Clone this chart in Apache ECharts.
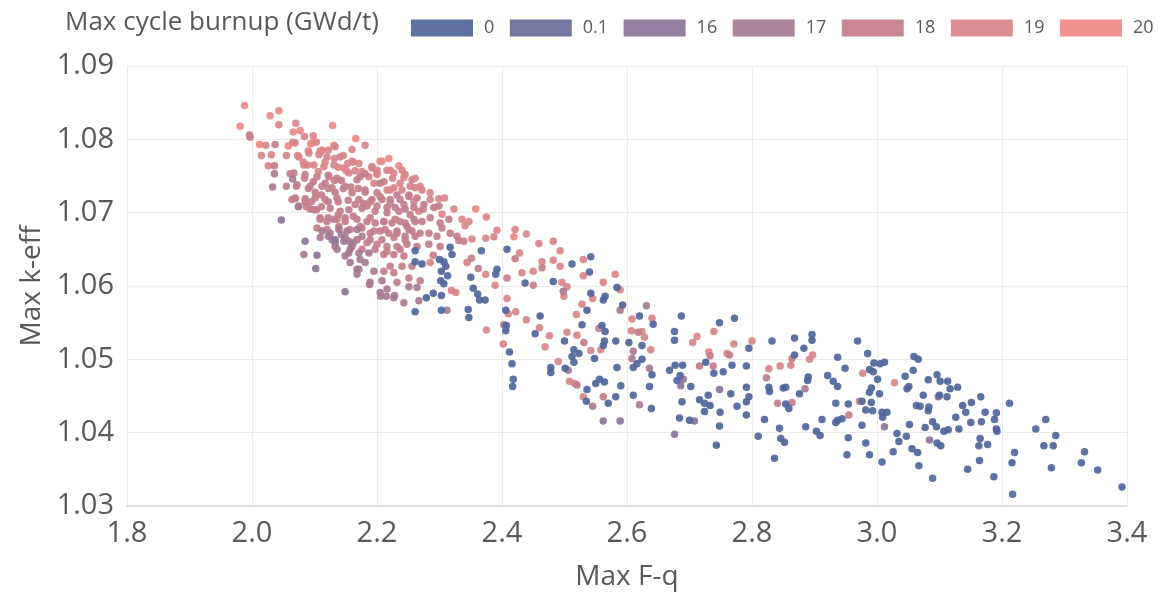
<!DOCTYPE html>
<html>
<head>
<meta charset="utf-8">
<script src="https://cdn.jsdelivr.net/npm/echarts@6/dist/echarts.min.js"></script>
<style>
  html, body { margin: 0; padding: 0; background: #ffffff; }
  #chart { width: 1158px; height: 597px; }
</style>
</head>
<body>
<div id="chart"></div>
<script>
// Burnup classes shown in the legend, with their colours
const burnupLabels = ['0', '0.1', '16', '17', '18', '19', '20'];
const burnupColors = ['#4f659a', '#6b6e9b', '#8a7599', '#a87b92', '#c27e8b', '#d9858a', '#ee8885'];

const xTicks = [1.8, 2.0, 2.2, 2.4, 2.6, 2.8, 3.0, 3.2, 3.4];
const yTicks = [1.03, 1.04, 1.05, 1.06, 1.07, 1.08, 1.09];

// [Max F-q, Max k-eff] per design, grouped by max cycle burnup (GWd/t)
const burnup20 = [
  [1.988,1.0846],[1.981,1.0818],[2.029,1.0832],[2.043,1.0839],[2.066,1.0810],[2.129,1.0819],[2.166,1.0801],
  [2.077,1.0812],[2.208,1.0770],[2.219,1.0774],[2.419,1.0667],[2.058,1.0791],[2.094,1.0794],[2.235,1.0764],
  [2.358,1.0705],[2.012,1.0793],[2.096,1.0795],[2.131,1.0792],[2.205,1.0770]
];

const burnup19 = [
  [2.043,1.0820],[2.070,1.0822],[2.084,1.0804],[2.098,1.0805],[2.022,1.0792],[2.065,1.0796],[2.103,1.0796],
  [2.090,1.0784],[2.109,1.0784],[2.122,1.0785],[2.133,1.0790],[2.160,1.0786],[2.181,1.0792],[2.015,1.0778],
  [2.031,1.0779],[2.055,1.0778],[2.073,1.0778],[2.110,1.0783],[2.132,1.0774],[2.146,1.0778],[2.117,1.0769],
  [2.153,1.0767],[2.162,1.0769],[2.082,1.0769],[2.089,1.0765],[2.106,1.0756],[2.138,1.0762],[2.192,1.0761],
  [2.221,1.0758],[2.200,1.0758],[2.240,1.0758],[2.243,1.0748],[2.256,1.0745],[2.261,1.0747],[2.225,1.0747],
  [2.200,1.0752],[2.165,1.0757],[2.151,1.0757],[2.026,1.0764],[2.253,1.0736],[2.269,1.0736],[2.272,1.0731],
  [2.285,1.0727],[2.299,1.0719],[2.308,1.0720],[2.285,1.0718],[2.323,1.0705],[2.347,1.0688],[2.375,1.0694],
  [2.336,1.0691],[2.341,1.0682],[2.392,1.0676],[2.421,1.0677],[2.439,1.0671],[2.459,1.0658],[2.482,1.0661],
  [2.493,1.0648],[2.428,1.0645],[2.464,1.0633],[2.482,1.0635],[2.530,1.0636],[2.493,1.0627],[2.450,1.0620],
  [2.432,1.0618],[2.562,1.0605],[2.581,1.0616],[2.496,1.0605],[2.504,1.0599],[2.499,1.0586],[2.530,1.0614],
  [2.589,1.0595],[2.545,1.0583],[2.528,1.0575],[2.408,1.0583],[2.410,1.0562],[2.422,1.0565],[2.439,1.0554],
  [2.519,1.0561],[2.608,1.0555],[2.640,1.0556],[2.304,1.0698],[2.344,1.0632],[2.374,1.0616],[2.389,1.0601],
  [2.319,1.0594],[2.326,1.0591],[2.285,1.0632],[2.352,1.0664],[2.374,1.0665],[2.387,1.0667],[2.216,1.0731],
  [2.227,1.0734],[2.240,1.0731],
  [2.542,1.0512],[2.558,1.0513],[2.504,1.0537],[2.520,1.0533],[2.490,1.0497],[2.508,1.0470],[2.516,1.0467],
  [2.476,1.0532],[2.469,1.0517],[2.460,1.0543],[2.375,1.0540],[2.402,1.0521],[2.530,1.0449],[2.607,1.0539],
  [2.624,1.0538],[2.628,1.0530],[2.638,1.0513],[2.705,1.0523],[2.712,1.0531],[2.739,1.0538],[2.731,1.0510],
  [2.760,1.0508],[2.771,1.0521],[2.800,1.0525],[2.827,1.0487],[2.845,1.0491],[2.862,1.0492],[2.892,1.0500],
  [2.897,1.0506],[2.977,1.0481],[3.028,1.0468],
  [2.069,1.0795],[2.112,1.0785],[2.075,1.0776],[2.091,1.0781],[2.107,1.0779],[2.120,1.0776],[2.141,1.0776],
  [2.160,1.0770],[2.171,1.0767],[2.192,1.0763],[2.216,1.0758],[2.083,1.0765],[2.099,1.0765],[2.115,1.0763],
  [2.131,1.0765],[2.147,1.0761],[2.155,1.0754],[2.176,1.0756],[2.187,1.0749],[2.200,1.0754],[2.227,1.0754],
  [2.245,1.0752],[2.195,1.0740],[2.237,1.0740],[2.261,1.0734],[2.221,1.0731],[2.251,1.0724],[2.259,1.0715],
  [2.267,1.0702]
];

const burnup18 = [
  [1.996,1.0806],[1.997,1.0803],[2.037,1.0793],[2.036,1.0764],[2.061,1.0753],[2.084,1.0747],[2.071,1.0736],
  [2.055,1.0736],[2.090,1.0733],[2.098,1.0742],[2.122,1.0751],[2.132,1.0744],[2.143,1.0744],[2.117,1.0740],
  [2.173,1.0749],[2.181,1.0753],[2.205,1.0740],[2.101,1.0728],[2.111,1.0724],[2.122,1.0733],[2.133,1.0728],
  [2.146,1.0733],[2.158,1.0735],[2.170,1.0733],[2.181,1.0728],[2.085,1.0719],[2.069,1.0719],[2.095,1.0715],
  [2.122,1.0715],[2.138,1.0715],[2.154,1.0717],[2.165,1.0711],[2.178,1.0713],[2.205,1.0722],[2.221,1.0718],
  [2.237,1.0718],[2.251,1.0722],[2.264,1.0720],[2.275,1.0711],[2.192,1.0718],[2.184,1.0709],[2.200,1.0709],
  [2.216,1.0707],[2.229,1.0707],[2.245,1.0705],[2.259,1.0707],[2.274,1.0705],[2.291,1.0707],[2.299,1.0709],
  [2.315,1.0691],[2.301,1.0686],[2.285,1.0693],[2.272,1.0688],[2.259,1.0691],[2.237,1.0688],[2.224,1.0686],
  [2.211,1.0688],[2.197,1.0686],[2.184,1.0688],[2.173,1.0681],[2.248,1.0681],[2.304,1.0679],[2.328,1.0668],
  [2.339,1.0661],[2.317,1.0672],[2.296,1.0668],[2.283,1.0672],[2.269,1.0672],[2.256,1.0675],[2.245,1.0668],
  [2.232,1.0672],[2.219,1.0672],[2.205,1.0675],[2.189,1.0672],[2.331,1.0662],[2.301,1.0654],[2.283,1.0657],
  [2.264,1.0654],[2.248,1.0657],[2.232,1.0654],[2.216,1.0654],[2.200,1.0657],[2.184,1.0659],[2.168,1.0663],
  [2.109,1.0691],[2.120,1.0688],[2.136,1.0691],[2.122,1.0693],[2.138,1.0697],[2.149,1.0688],[2.162,1.0695],
  [2.093,1.0705],[2.103,1.0704],[2.111,1.0708],[2.064,1.0718],[2.087,1.0708],[2.211,1.0643],[2.227,1.0643],
  [2.243,1.0641],[2.232,1.0605],[2.251,1.0611],[2.269,1.0607],[2.227,1.0618],[2.211,1.0620],[2.240,1.0627],
  [2.256,1.0627],[2.221,1.0627],[2.290,1.0642],[2.351,1.0638],[2.362,1.0624],[2.408,1.0611],[2.450,1.0601],
  [2.421,1.0637],[2.464,1.0625],
  [2.555,1.0542],[2.531,1.0523],[2.520,1.0465],[2.562,1.0449],[2.618,1.0537],[2.716,1.0491],[2.733,1.0505],
  [2.738,1.0491],[2.764,1.0506],[2.823,1.0475],[2.841,1.0440],[2.864,1.0441],[2.864,1.0501],[2.955,1.0424],
  [2.972,1.0443],
  [2.067,1.0754],[2.085,1.0752],[2.104,1.0749],[2.123,1.0749],[2.136,1.0747],[2.168,1.0745],[2.211,1.0742],
  [2.072,1.0738],[2.093,1.0736],[2.112,1.0736],[2.128,1.0734],[2.149,1.0736],[2.160,1.0727],[2.181,1.0731],
  [2.200,1.0727],[2.232,1.0724],[2.069,1.0720],[2.085,1.0715],[2.101,1.0720],[2.117,1.0718],[2.136,1.0720],
  [2.171,1.0718],[2.189,1.0715],[2.208,1.0718],[2.221,1.0713],[2.243,1.0711],[2.075,1.0709],[2.099,1.0704],
  [2.125,1.0706],[2.141,1.0702],[2.155,1.0704],[2.176,1.0706],[2.197,1.0702],[2.216,1.0700],[2.235,1.0702],
  [2.253,1.0697],[2.109,1.0693],[2.131,1.0691],[2.149,1.0693],[2.168,1.0691],[2.189,1.0693],[2.211,1.0688],
  [2.229,1.0691],[2.245,1.0686],[2.261,1.0688],[2.104,1.0679],[2.120,1.0677],[2.139,1.0681],[2.157,1.0677],
  [2.176,1.0679],[2.195,1.0675],[2.213,1.0677],[2.232,1.0675],[2.251,1.0677],[2.168,1.0663],[2.189,1.0663],
  [2.208,1.0663],[2.227,1.0666],[2.245,1.0663],[2.261,1.0668],[2.176,1.0650],[2.197,1.0650],[2.216,1.0647],
  [2.237,1.0650]
];

const burnup17 = [
  [2.033,1.0735],[2.065,1.0746],[2.036,1.0753],[2.074,1.0708],[2.112,1.0675],[2.125,1.0672],[2.139,1.0677],
  [2.152,1.0675],[2.133,1.0659],[2.147,1.0661],[2.155,1.0661],[2.160,1.0654],[2.122,1.0668],[2.133,1.0654],
  [2.143,1.0670],[2.168,1.0623],[2.168,1.0616],[2.149,1.0641],[2.155,1.0645],[2.171,1.0645],[2.187,1.0645],
  [2.157,1.0632],[2.171,1.0623],[2.195,1.0620],[2.189,1.0605],[2.208,1.0607],[2.205,1.0591],[2.216,1.0596],
  [2.227,1.0584],[2.243,1.0577],[2.267,1.0580],[2.228,1.0587],[2.215,1.0586],[2.206,1.0586],[2.188,1.0602],
  [2.251,1.0599],[2.264,1.0598],[2.162,1.0659],[2.176,1.0668],[2.168,1.0677],[2.181,1.0632],[2.173,1.0636],
  [2.083,1.0643],[2.312,1.0567],[2.403,1.0547],[2.610,1.0511],[2.608,1.0501],[2.636,1.0488],[2.631,1.0573],
  [2.589,1.0567],[2.506,1.0485],[2.498,1.0593],[2.620,1.0438],[2.545,1.0436],[2.885,1.0460],
  [2.109,1.0666],[2.128,1.0663],[2.149,1.0666],[2.136,1.0650],[2.157,1.0650]
];

const burnup16 = [
  [2.047,1.0690],[2.085,1.0661],[2.104,1.0642],[2.102,1.0624],[2.149,1.0592],[2.133,1.0663],
  [2.589,1.0416],[2.562,1.0416],[2.676,1.0398],[2.708,1.0416],[2.690,1.0473],[2.686,1.0464],[2.748,1.0459],
  [3.012,1.0408],[3.098,1.0449],[3.084,1.0390]
];

const burnup01 = [];

const burnup0 = [
  [2.261,1.0648],[2.261,1.0633],[2.272,1.0630],[2.317,1.0653],[2.320,1.0643],[2.300,1.0636],[2.307,1.0633],
  [2.310,1.0627],[2.303,1.0620],[2.313,1.0614],[2.302,1.0607],[2.307,1.0603],[2.290,1.0590],[2.303,1.0587],
  [2.279,1.0584],[2.261,1.0565],[2.303,1.0567],[2.346,1.0568],[2.347,1.0557],[2.350,1.0612],[2.354,1.0597],
  [2.361,1.0589],[2.364,1.0581],[2.373,1.0581],[2.367,1.0648],[2.392,1.0623],[2.390,1.0616],
  [2.408,1.0650],[2.512,1.0630],[2.542,1.0640],[2.540,1.0619],[2.437,1.0604],[2.482,1.0606],[2.584,1.0598],
  [2.542,1.0590],[2.565,1.0586],[2.562,1.0581],[2.536,1.0567],[2.593,1.0574],[2.620,1.0559],[2.642,1.0548],
  [2.603,1.0523],[2.624,1.0519],[2.610,1.0489],[2.616,1.0494],[2.624,1.0500],[2.640,1.0479],[2.636,1.0463],
  [2.639,1.0433],[2.610,1.0451],[2.582,1.0449],[2.570,1.0440],[2.535,1.0443],[2.536,1.0459],[2.550,1.0467],
  [2.556,1.0473],[2.564,1.0469],[2.590,1.0464],[2.584,1.0489],[2.548,1.0501],[2.562,1.0519],[2.582,1.0525],
  [2.564,1.0525],[2.560,1.0546],[2.565,1.0538],[2.528,1.0547],[2.500,1.0525],[2.515,1.0513],[2.523,1.0508],
  [2.512,1.0504],[2.515,1.0496],[2.501,1.0488],[2.478,1.0489],[2.478,1.0482],[2.453,1.0535],[2.461,1.0559],
  [2.406,1.0567],[2.406,1.0539],[2.407,1.0546],[2.412,1.0510],[2.416,1.0494],[2.418,1.0473],[2.417,1.0463],
  [2.687,1.0559],[2.676,1.0538],[2.676,1.0526],[2.668,1.0485],[2.677,1.0492],[2.689,1.0492],[2.680,1.0471],
  [2.685,1.0478],[2.702,1.0463],[2.688,1.0442],[2.684,1.0420],[2.700,1.0417],[2.716,1.0445],[2.724,1.0440],
  [2.733,1.0437],[2.724,1.0429],[2.730,1.0451],[2.749,1.0428],[2.748,1.0409],[2.743,1.0383],[2.726,1.0496],
  [2.748,1.0550],[2.772,1.0556],[2.739,1.0481],[2.754,1.0483],[2.768,1.0492],[2.766,1.0453],[2.776,1.0436],
  [2.791,1.0491],[2.795,1.0515],[2.791,1.0462],[2.795,1.0449],[2.791,1.0442],[2.791,1.0424],[2.810,1.0395],
  [2.820,1.0418],[2.836,1.0365],[2.832,1.0525],[2.827,1.0462],[2.828,1.0456],[2.850,1.0461],[2.854,1.0462],
  [2.854,1.0439],[2.859,1.0433],[2.844,1.0406],[2.846,1.0392],[2.852,1.0387],[2.868,1.0506],[2.868,1.0529],
  [2.883,1.0515],[2.896,1.0534],[2.896,1.0526],[2.890,1.0476],[2.889,1.0471],[2.876,1.0453],[2.886,1.0408],
  [2.903,1.0402],[2.909,1.0396],[2.912,1.0418],[2.921,1.0478],[2.930,1.0470],[2.937,1.0463],[2.937,1.0503],
  [2.949,1.0488],[2.934,1.0440],[2.934,1.0414],[2.937,1.0417],[2.944,1.0419],[2.954,1.0439],[2.954,1.0393],
  [2.952,1.0370],[2.969,1.0525],[2.985,1.0508],[2.988,1.0486],[2.994,1.0483],[2.995,1.0495],[3.001,1.0473],
  [2.991,1.0461],[2.988,1.0455],[2.976,1.0443],[2.991,1.0441],[2.982,1.0431],[2.993,1.0430],[2.976,1.0410],
  [2.982,1.0386],[2.988,1.0370],[3.005,1.0494],[3.012,1.0496],[3.004,1.0453],[3.008,1.0428],[3.016,1.0428],
  [3.009,1.0421],[3.008,1.0360],[3.032,1.0399],[3.035,1.0388],[3.026,1.0374],
  [3.059,1.0504],[3.066,1.0500],[3.058,1.0485],[3.045,1.0477],[3.048,1.0460],[3.051,1.0463],[3.082,1.0472],
  [3.096,1.0479],[3.101,1.0470],[3.113,1.0470],[3.117,1.0460],[3.129,1.0462],[3.074,1.0451],[3.100,1.0451],
  [3.112,1.0449],[3.063,1.0437],[3.069,1.0436],[3.083,1.0435],[3.082,1.0430],[3.052,1.0411],[3.077,1.0407],
  [3.089,1.0415],[3.095,1.0408],[3.107,1.0402],[3.114,1.0404],[3.131,1.0405],[3.126,1.0421],[3.137,1.0437],
  [3.142,1.0428],[3.151,1.0441],[3.166,1.0449],[3.173,1.0428],[3.167,1.0415],[3.150,1.0414],[3.188,1.0418],
  [3.191,1.0427],[3.191,1.0405],[3.192,1.0402],[3.212,1.0440],[3.047,1.0395],[3.096,1.0386],[3.102,1.0382],
  [3.165,1.0392],[3.163,1.0382],[3.177,1.0384],[3.056,1.0378],[3.065,1.0373],[3.164,1.0362],[3.067,1.0355],
  [3.089,1.0338],[3.145,1.0350],[3.187,1.0340],[3.216,1.0359],[3.220,1.0373],[3.217,1.0316],[3.254,1.0405],
  [3.270,1.0418],[3.286,1.0396],[3.267,1.0382],[3.282,1.0382],[3.279,1.0352],[3.327,1.0359],[3.332,1.0374],
  [3.353,1.0349],[3.392,1.0326]
];

const groups = [burnup0, burnup01, burnup16, burnup17, burnup18, burnup19, burnup20];

const FONT = '"Open Sans", "Noto Sans", sans-serif';
const TEXT = '#595959';

// Higher burnup classes are drawn first so the low-burnup points sit on top
const series = groups.map((data, i) => ({
  name: burnupLabels[i],
  type: 'scatter',
  data: data,
  symbol: 'circle',
  symbolSize: 7.5,
  z: 10 - i,
  itemStyle: { color: burnupColors[i], opacity: 0.92 },
  emphasis: { disabled: true }
})).reverse();

const chart = echarts.init(document.getElementById('chart'), null, { renderer: 'canvas' });
chart.setOption({
  animation: false,
  backgroundColor: '#ffffff',
  color: burnupColors,
  title: {
    text: 'Max cycle burnup (GWd/t)',
    left: 60,
    top: 5,
    textStyle: { fontFamily: FONT, fontSize: 26, fontWeight: 'normal', color: TEXT }
  },
  legend: {
    data: burnupLabels,
    left: 406,
    top: 14,
    width: 752,
    padding: 5,
    icon: 'rect',
    itemWidth: 62,
    itemHeight: 17,
    itemGap: 15.5,
    textStyle: { fontFamily: FONT, fontSize: 18, color: TEXT, padding: [0, 0, 0, 6] }
  },
  grid: { left: 127, right: 31, top: 66, bottom: 91, containLabel: false },
  xAxis: {
    type: 'value',
    min: xTicks[0],
    max: xTicks[xTicks.length - 1],
    interval: 0.2,
    name: 'Max F-q',
    nameLocation: 'middle',
    nameGap: 57,
    nameTextStyle: { fontFamily: FONT, fontSize: 28, color: TEXT },
    axisLine: { show: true, lineStyle: { color: '#d4d4d4', width: 1.5 } },
    axisTick: { show: false },
    axisLabel: {
      fontFamily: FONT, fontSize: 29, color: TEXT, margin: 13,
      formatter: v => v.toFixed(1)
    },
    splitLine: { show: true, lineStyle: { color: '#ebebeb', width: 1 } }
  },
  yAxis: {
    type: 'value',
    min: yTicks[0],
    max: yTicks[yTicks.length - 1],
    interval: 0.01,
    name: 'Max k-eff',
    nameLocation: 'middle',
    nameGap: 80,
    nameRotate: 90,
    nameTextStyle: { fontFamily: FONT, fontSize: 28, color: TEXT },
    axisLine: { show: false },
    axisTick: { show: false },
    axisLabel: {
      fontFamily: FONT, fontSize: 29, color: TEXT, margin: 13,
      formatter: v => v.toFixed(2)
    },
    splitLine: { show: true, lineStyle: { color: '#ebebeb', width: 1 } }
  },
  series: series
});
</script>
</body>
</html>
